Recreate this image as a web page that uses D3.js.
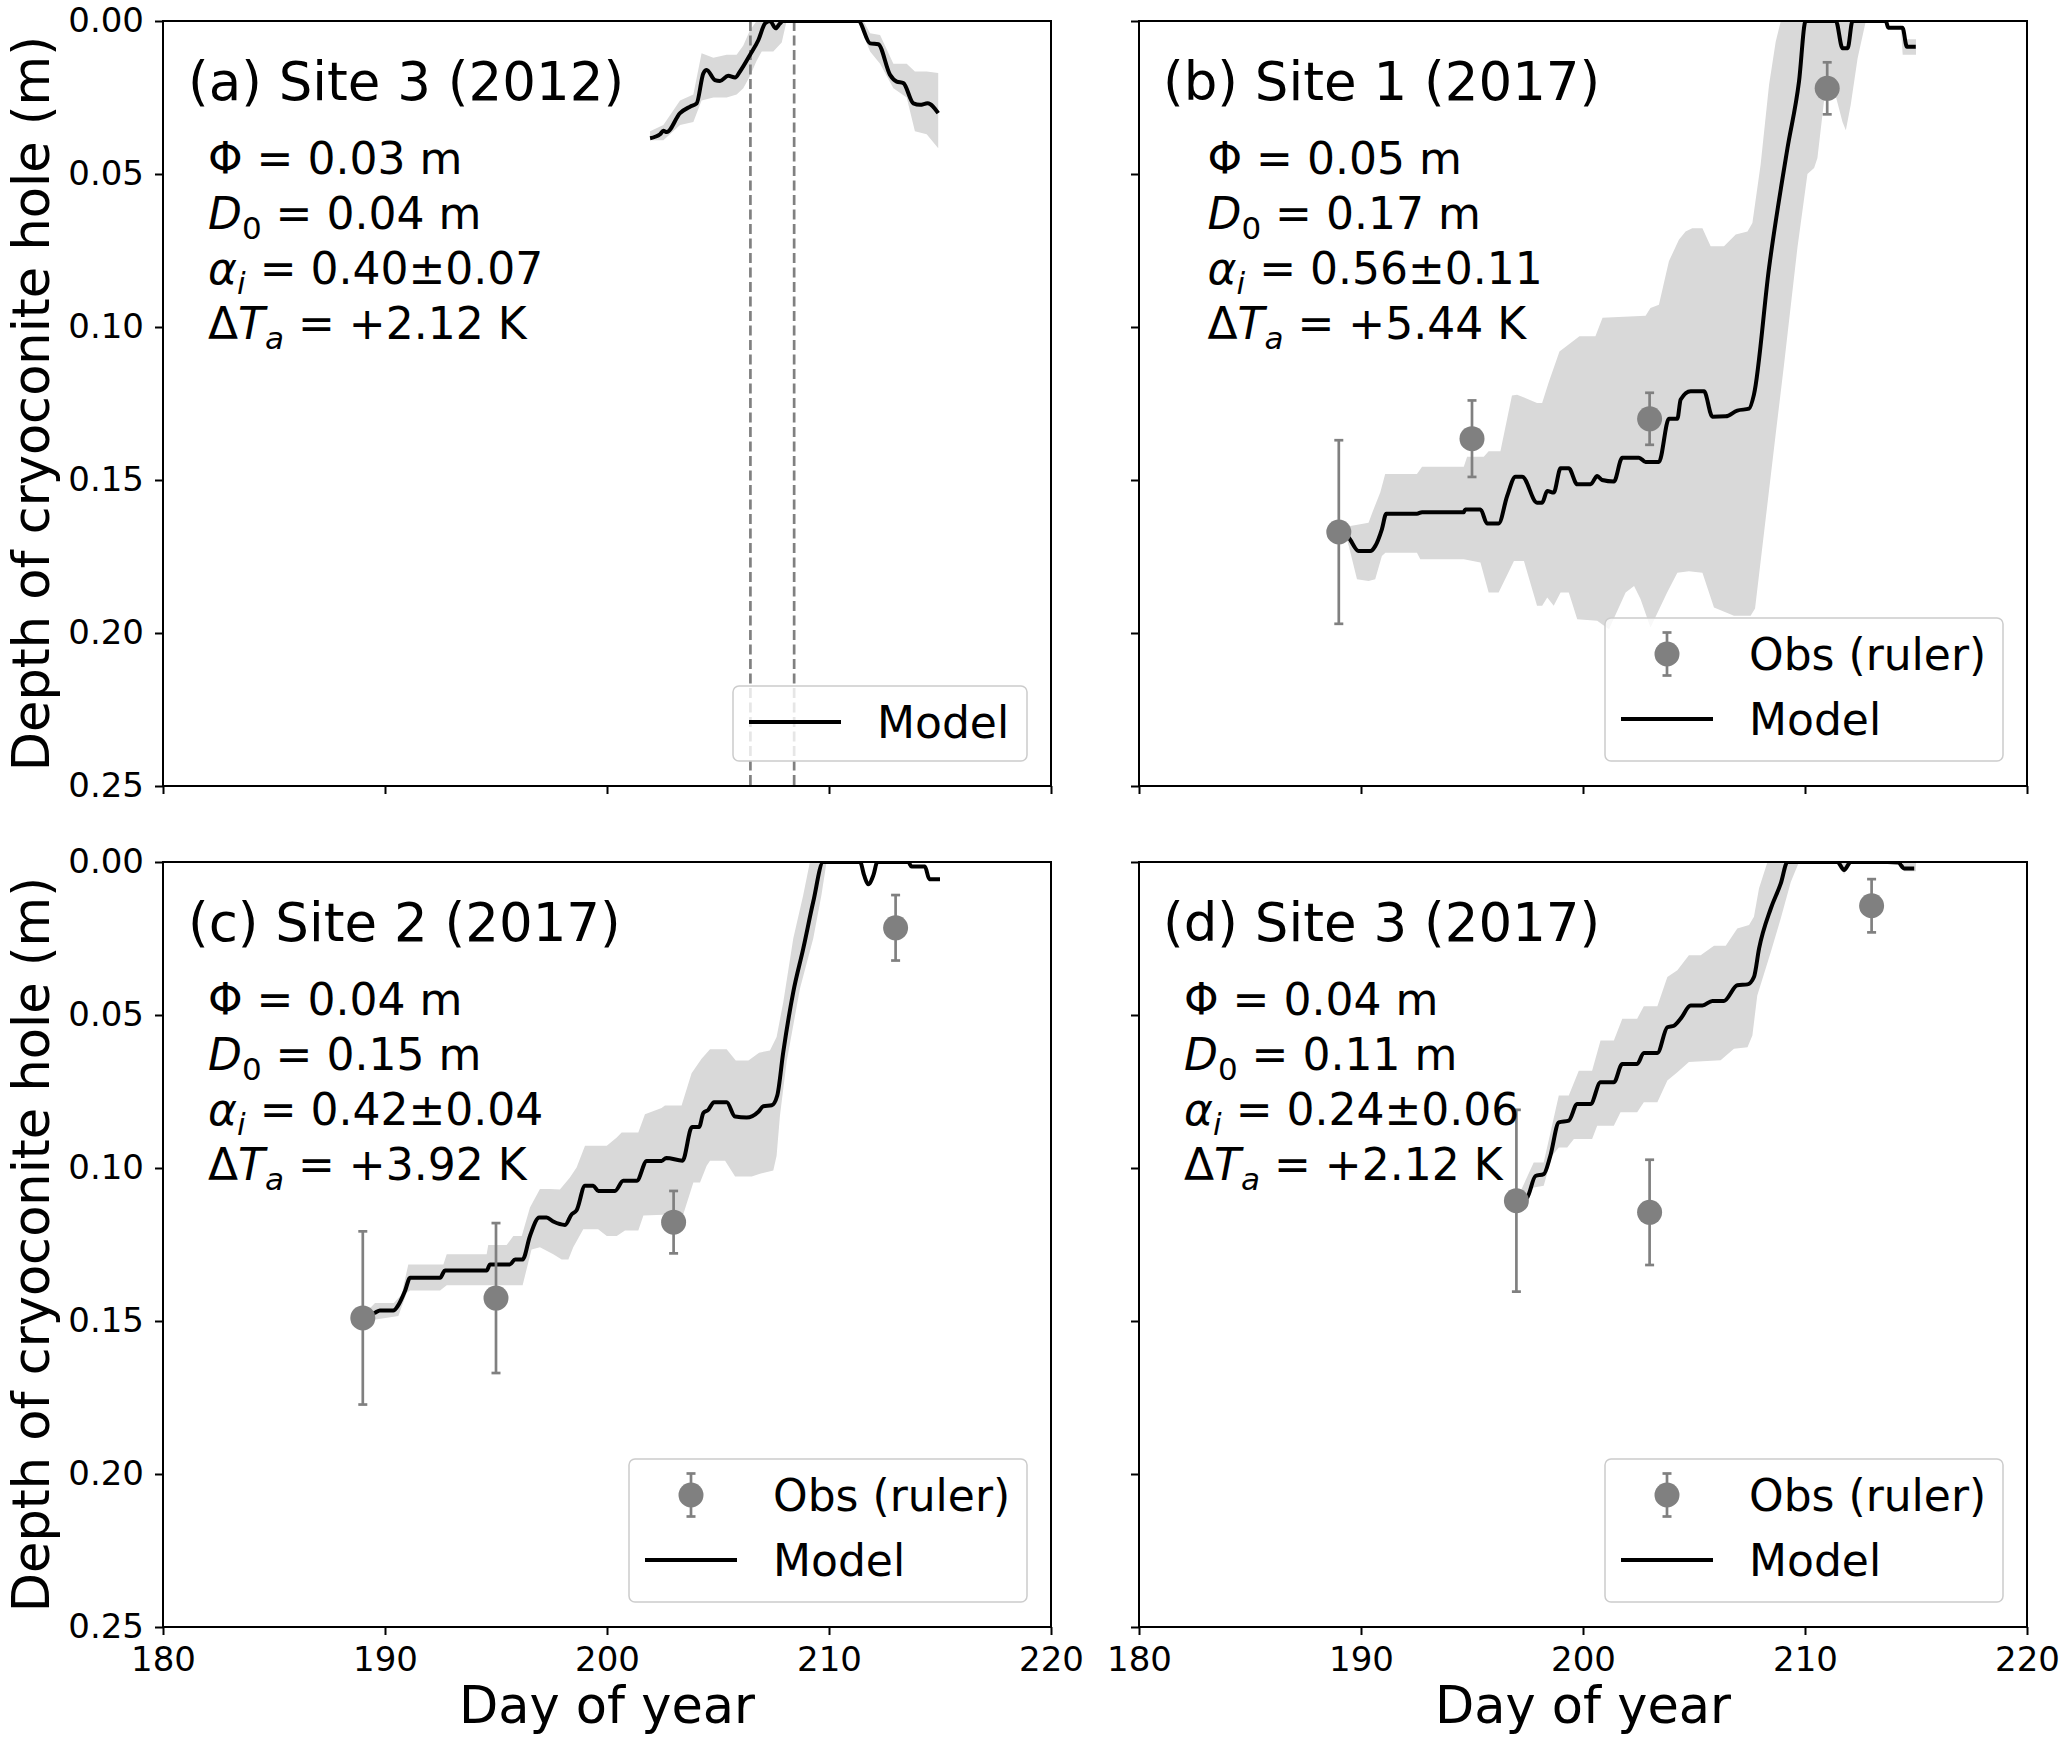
<!DOCTYPE html>
<html>
<head>
<meta charset="utf-8">
<script src="https://cdn.jsdelivr.net/npm/d3@7"></script>
<style>
body { margin: 0; background: #fff; }
text { font-family: "DejaVu Sans", sans-serif; fill: #000; white-space: pre; }
</style>
</head>
<body>
<svg id="fig" width="2067" height="1744"></svg>
<script>
// ---- data ----
const dayTicks = [180, 190, 200, 210, 220];
const depthTicks = [0, 0.05, 0.10, 0.15, 0.20, 0.25];

const panelTitles = ["(a) Site 3 (2012)", "(b) Site 1 (2017)", "(c) Site 2 (2017)", "(d) Site 3 (2017)"];
const phiValues = ["0.03", "0.05", "0.04", "0.04"];
const d0Values = ["0.04", "0.17", "0.15", "0.11"];
const alphaValues = ["0.40\u00b10.07", "0.56\u00b10.11", "0.42\u00b10.04", "0.24\u00b10.06"];
const dTaValues = ["+2.12", "+5.44", "+3.92", "+2.12"];

// dashed markers in panel (a), day of year
const site3_2012Marks = [206.46, 208.43];

// model lines [day, depth]
const site3_2012Model = [[201.94,0.0383],[202.39,0.0370],[202.54,0.0359],[202.69,0.0363],[203.29,0.0301],[203.74,0.0280],[204.04,0.0269],[204.34,0.0171],[204.49,0.0160],[204.86,0.0193],[205.09,0.0196],[205.46,0.0179],[205.77,0.0185],[205.99,0.0165],[206.44,0.0111],[206.82,0.0062],[207.12,0.0008],[207.34,0],[207.60,0.0024],[207.79,0.0008],[207.94,0],[211.32,0],[211.85,0.0073],[212.22,0.0076],[212.75,0.0176],[213.05,0.0198],[213.35,0.0203],[213.80,0.0269],[214.10,0.0274],[214.44,0.0269],[214.92,0.0301]];
const site1_2017Model = [[189.1,0.167],[189.44,0.1688],[189.89,0.1732],[190.42,0.1732],[190.64,0.1716],[190.94,0.1661],[191.14,0.1610],[192.52,0.1610],[192.75,0.1605],[194.63,0.1605],[194.70,0.1596],[195.38,0.1596],[195.68,0.1642],[196.20,0.1642],[196.58,0.1553],[196.96,0.1489],[197.26,0.1489],[197.93,0.1574],[198.16,0.1574],[198.39,0.1536],[198.68,0.1541],[198.99,0.1462],[199.36,0.1462],[199.74,0.1514],[200.34,0.1514],[200.64,0.1487],[200.86,0.1500],[201.39,0.1505],[201.77,0.1427],[202.52,0.1427],[202.82,0.1441],[203.42,0.1441],[203.87,0.1300],[204.25,0.1300],[204.40,0.1237],[204.85,0.1210],[205.45,0.1210],[205.83,0.1293],[206.43,0.1292],[206.95,0.1273],[207.48,0.1267],[207.70,0.1221],[208.38,0.0807],[209.21,0.0416],[209.73,0.0198],[210.03,0],[211.39,0],[211.69,0.0089],[211.92,0.0089],[212.14,0],[213.64,0],[213.75,0.0022],[214.39,0.0022],[214.59,0.0084],[214.99,0.0084]];
const site2_2017Model = [[189.3,0.148],[189.55,0.1473],[189.77,0.1466],[190.37,0.1466],[190.60,0.1448],[190.90,0.1402],[191.13,0.1359],[192.48,0.1359],[192.70,0.1335],[194.58,0.1335],[194.73,0.1315],[195.63,0.1315],[195.86,0.1299],[196.20,0.1299],[196.53,0.1222],[196.95,0.1162],[197.28,0.1162],[197.58,0.1175],[198.11,0.1186],[198.41,0.1151],[198.63,0.1138],[199.01,0.1058],[199.38,0.1058],[199.61,0.1075],[200.36,0.1075],[200.73,0.1042],[201.34,0.1042],[201.79,0.0977],[202.46,0.0977],[202.67,0.0967],[203.40,0.0976],[203.83,0.0866],[204.15,0.0866],[204.34,0.0820],[204.56,0.0810],[204.82,0.0785],[205.39,0.0785],[205.77,0.0832],[206.29,0.0835],[206.82,0.0816],[207.04,0.0798],[207.42,0.0795],[207.67,0.0763],[207.94,0.0621],[208.39,0.0425],[208.84,0.0283],[209.29,0.0130],[209.74,0],[211.40,0],[211.58,0.0043],[211.77,0.0073],[212.00,0.0043],[212.18,0],[213.57,0],[213.72,0.0015],[214.32,0.0015],[214.52,0.0056],[215.0,0.0056]];
const site3_2017Model = [[197.1,0.111],[197.48,0.1097],[197.86,0.1026],[198.23,0.1020],[198.53,0.0960],[198.91,0.0851],[199.36,0.0845],[199.74,0.0791],[200.34,0.0791],[200.79,0.0720],[201.39,0.0720],[201.77,0.0660],[202.44,0.0660],[202.74,0.0624],[203.35,0.0624],[203.80,0.0540],[204.10,0.0535],[204.40,0.0512],[204.85,0.0469],[205.38,0.0469],[205.83,0.0454],[206.35,0.0454],[206.95,0.0403],[207.41,0.0400],[207.70,0.0376],[207.93,0.0283],[208.46,0.0152],[208.91,0.0070],[209.21,0],[211.46,0],[211.76,0.0026],[212.06,0],[213.72,0],[214.2,0.0002],[214.47,0.0021],[214.92,0.0021]];

// uncertainty band edges [day, depth]: shallow edge and deep edge
const site3_2012BandTop = [[201.94,0.036],[202.54,0.034],[203.29,0.026],[203.89,0.024],[204.26,0.0105],[204.79,0.012],[205.39,0.011],[205.84,0.011],[206.14,0.008],[206.44,0.003],[206.74,0],[211.55,0],[211.85,0.004],[212.30,0.0046],[212.90,0.014],[213.50,0.014],[213.87,0.0165],[214.40,0.0165],[214.92,0.017]];
const site3_2012BandBottom = [[201.94,0.039],[202.54,0.039],[203.29,0.034],[203.89,0.033],[204.26,0.026],[204.79,0.025],[205.39,0.025],[205.84,0.024],[206.14,0.022],[206.44,0.018],[206.74,0.013],[206.97,0.010],[207.49,0.010],[207.87,0.007],[208.09,0],[211.3,0],[211.85,0.010],[212.30,0.014],[212.90,0.022],[213.50,0.025],[213.87,0.036],[214.40,0.037],[214.92,0.0416]];
const site1_2017BandTop = [[189.3,0.166],[189.52,0.165],[190.34,0.164],[190.49,0.161],[190.87,0.154],[191.09,0.148],[192.52,0.148],[192.75,0.1457],[194.63,0.1457],[194.78,0.1424],[195.53,0.1424],[195.75,0.1406],[196.28,0.1406],[196.80,0.1224],[197.03,0.1221],[197.93,0.1248],[198.16,0.1248],[198.46,0.118],[198.94,0.108],[199.84,0.103],[200.56,0.103],[200.88,0.097],[202.82,0.0963],[203.04,0.0938],[203.42,0.0927],[203.87,0.0785],[204.32,0.0715],[204.62,0.0688],[204.92,0.0677],[205.38,0.0677],[205.75,0.0736],[206.35,0.0736],[206.88,0.0698],[207.41,0.0688],[207.63,0.066],[208.0,0.047],[208.38,0.0209],[208.68,0.0068],[208.91,0],[214.3,0],[214.4,0.006],[215.0,0.006]];
const site1_2017BandBottom = [[189.3,0.168],[189.45,0.1716],[189.82,0.1824],[190.34,0.1830],[190.64,0.1824],[190.94,0.1748],[191.1,0.1738],[192.52,0.1738],[192.67,0.1759],[194.63,0.1759],[195.38,0.1770],[195.75,0.1868],[196.20,0.1868],[196.89,0.1765],[197.34,0.1765],[197.93,0.1911],[198.16,0.1911],[198.39,0.1884],[198.68,0.1911],[198.99,0.1868],[199.36,0.1868],[199.74,0.1955],[200.64,0.1960],[201.17,0.1988],[201.92,0.1868],[202.30,0.1846],[202.59,0.1889],[203.04,0.1982],[203.79,0.1868],[204.25,0.1803],[204.77,0.1798],[205.38,0.1803],[205.90,0.1917],[206.80,0.1944],[207.55,0.1944],[207.75,0.192],[208.68,0.135],[209.06,0.112],[209.66,0.074],[210.11,0.050],[210.41,0.048],[210.56,0.0448],[210.86,0.026],[211.31,0.0225],[211.69,0.033],[211.84,0.0357],[212.06,0.0274],[212.37,0.0122],[212.74,0],[214.3,0],[214.4,0.011],[215.0,0.011]];
const site2_2017BandTop = [[189.3,0.146],[189.55,0.1441],[190.40,0.1441],[190.75,0.1413],[191.05,0.1315],[192.63,0.1315],[192.78,0.1282],[194.58,0.1282],[194.65,0.1252],[195.48,0.1252],[195.78,0.1222],[196.16,0.1222],[196.53,0.1129],[196.98,0.1069],[197.43,0.1069],[197.88,0.107],[198.33,0.1031],[198.63,0.0998],[199.01,0.0927],[199.99,0.0927],[200.44,0.0900],[200.66,0.0884],[201.41,0.0884],[201.71,0.0824],[202.46,0.0804],[202.61,0.0796],[203.36,0.0796],[203.81,0.069],[204.26,0.0643],[204.64,0.0612],[205.39,0.0612],[205.80,0.0649],[206.37,0.0649],[206.85,0.0623],[207.34,0.0616],[207.64,0.0572],[207.94,0.0458],[208.39,0.0250],[208.84,0.0108],[209.14,0],[215.0,0]];
const site2_2017BandBottom = [[189.3,0.150],[189.58,0.1495],[190.60,0.1484],[190.98,0.1408],[191.13,0.140],[192.48,0.140],[192.78,0.1383],[196.20,0.1383],[196.60,0.1266],[196.98,0.1259],[197.58,0.1282],[197.96,0.1299],[198.26,0.1299],[198.48,0.1259],[198.93,0.1200],[199.60,0.1200],[199.99,0.1222],[200.44,0.1222],[200.81,0.1204],[201.41,0.1204],[201.64,0.1155],[203.44,0.1150],[203.89,0.1047],[204.19,0.1047],[204.49,0.0993],[204.64,0.0976],[205.32,0.0976],[205.77,0.1028],[206.52,0.1028],[206.89,0.1019],[207.49,0.1008],[207.64,0.0960],[207.79,0.0829],[208.09,0.0654],[208.69,0.0414],[209.29,0.0250],[209.66,0.0108],[209.89,0],[215.0,0]];
const site3_2017BandTop = [[197.1,0.109],[197.78,0.0982],[198.23,0.0982],[198.91,0.0763],[199.36,0.0763],[199.81,0.0682],[200.41,0.0682],[200.79,0.0583],[201.39,0.0583],[201.77,0.0512],[202.44,0.0512],[202.74,0.0471],[203.35,0.0471],[203.80,0.0376],[204.25,0.0354],[204.77,0.0305],[205.30,0.0305],[205.90,0.0274],[206.43,0.0274],[206.95,0.0217],[207.48,0.0206],[207.70,0.0179],[207.93,0.0086],[208.31,0],[215.0,0]];
const site3_2017BandBottom = [[197.1,0.112],[197.78,0.1064],[198.23,0.1058],[198.61,0.0960],[198.91,0.0933],[199.29,0.0933],[199.59,0.0905],[200.41,0.0905],[200.64,0.0862],[201.39,0.0862],[201.69,0.0818],[202.44,0.0818],[202.74,0.0785],[203.35,0.0785],[203.80,0.0714],[204.25,0.0687],[204.77,0.0654],[206.20,0.0648],[206.80,0.0610],[207.41,0.0605],[207.63,0.0567],[207.85,0.0436],[208.46,0.0294],[208.91,0.0184],[209.36,0.0065],[209.73,0],[211.5,0],[211.76,0.004],[212.0,0],[214.4,0],[214.47,0.003],[215.0,0.003]];

// ruler observations [day, depth, error]
const site1_2017Obs = [[189,0.167,0.030],[195,0.1365,0.0125],[203,0.130,0.0085],[211,0.022,0.0085]];
const site2_2017Obs = [[189,0.149,0.0283],[195,0.1425,0.0245],[203,0.1177,0.0102],[213,0.0215,0.0107]];
const site3_2017Obs = [[197,0.1107,0.0297],[203,0.1145,0.0172],[213,0.0143,0.0087]];

// ---- layout ----
const W = 888, H = 765;
const panels = [
  {key: "a", x: 163,  y: 21,  model: site3_2012Model, top: site3_2012BandTop, bottom: site3_2012BandBottom, obs: null, marks: site3_2012Marks, paramDx: 45,   yLabels: true,  xLabels: false},
  {key: "b", x: 1139, y: 21,  model: site1_2017Model, top: site1_2017BandTop, bottom: site1_2017BandBottom, obs: site1_2017Obs, marks: [], paramDx: 68.5, yLabels: false, xLabels: false},
  {key: "c", x: 163,  y: 862, model: site2_2017Model, top: site2_2017BandTop, bottom: site2_2017BandBottom, obs: site2_2017Obs, marks: [], paramDx: 45,   yLabels: true,  xLabels: true},
  {key: "d", x: 1139, y: 862, model: site3_2017Model, top: site3_2017BandTop, bottom: site3_2017BandBottom, obs: site3_2017Obs, marks: [], paramDx: 45,   yLabels: false, xLabels: true}
];

const svg = d3.select("#fig");
svg.append("rect").attr("width", 2067).attr("height", 1744).attr("fill", "#fff");
const defs = svg.append("defs");

const obsColor = "#808080";
const bandColor = "#d9d9d9";

function drawObs(g, cx, cy, dy) {
  g.append("line").attr("x1", cx).attr("x2", cx).attr("y1", cy - dy).attr("y2", cy + dy)
    .attr("stroke", obsColor).attr("stroke-width", 2.7);
  [cy - dy, cy + dy].forEach(v => {
    g.append("line").attr("x1", cx - 4.5).attr("x2", cx + 4.5).attr("y1", v).attr("y2", v)
      .attr("stroke", obsColor).attr("stroke-width", 2.7);
  });
  g.append("circle").attr("cx", cx).attr("cy", cy).attr("r", 12.5).attr("fill", obsColor);
}

function drawLegend(g, p, hasObs) {
  const w = hasObs ? 398 : 294, h = hasObs ? 143 : 75;
  const bx = p.x + W - 24 - w, by = p.y + H - 25 - h;
  g.append("rect").attr("x", bx).attr("y", by).attr("width", w).attr("height", h)
    .attr("rx", 6).attr("fill", "#fff").attr("fill-opacity", 0.8)
    .attr("stroke", "#cccccc").attr("stroke-width", 1.5);
  let row = by + 36;
  if (hasObs) {
    drawObs(g, bx + 62, row, 21.5);
    g.append("text").attr("x", bx + 144).attr("y", row + 16).attr("font-size", 44).text("Obs (ruler)");
    row += 65;
  }
  g.append("line").attr("x1", bx + 16).attr("x2", bx + 108).attr("y1", row).attr("y2", row)
    .attr("stroke", "#000").attr("stroke-width", 4);
  g.append("text").attr("x", bx + 144).attr("y", row + 16).attr("font-size", 44).text("Model");
}

function paramLine(g, x, y, parts) {
  const t = g.append("text").attr("x", x).attr("y", y).attr("font-size", 44);
  parts.forEach(pt => {
    const s = t.append("tspan").text(pt.t);
    if (pt.it) s.attr("font-style", "italic");
    if (pt.sub) s.attr("font-size", 31).attr("dy", 10);
    if (pt.up) s.attr("dy", -10);
  });
}

panels.forEach((p, i) => {
  const x = d3.scaleLinear().domain([180, 220]).range([p.x, p.x + W]);
  const y = d3.scaleLinear().domain([0, 0.25]).range([p.y, p.y + H]);
  const g = svg.append("g");

  defs.append("clipPath").attr("id", "clip-" + p.key).append("rect")
    .attr("x", p.x).attr("y", p.y).attr("width", W).attr("height", H);
  const plot = g.append("g").attr("clip-path", `url(#clip-${p.key})`);

  // uncertainty band
  const poly = p.top.concat(p.bottom.slice().reverse());
  plot.append("path")
    .attr("d", d3.line().x(d => x(d[0])).y(d => y(d[1]))(poly) + "Z")
    .attr("fill", bandColor);

  // dashed markers
  p.marks.forEach(m => {
    plot.append("line").attr("x1", x(m)).attr("x2", x(m)).attr("y1", p.y).attr("y2", p.y + H)
      .attr("stroke", obsColor).attr("stroke-width", 2.7).attr("stroke-dasharray", "10,4.5");
  });

  // model
  plot.append("path")
    .attr("d", d3.line().x(d => x(d[0])).y(d => y(d[1])).curve(d3.curveMonotoneX)(p.model))
    .attr("fill", "none").attr("stroke", "#000").attr("stroke-width", 4)
    .attr("stroke-linejoin", "round");

  // observations
  if (p.obs) {
    p.obs.forEach(o => drawObs(plot, x(o[0]), y(o[1]), y(o[2]) - y(0)));
  }

  // axes
  const yAxis = d3.axisLeft(y).tickValues(depthTicks).tickSize(8).tickSizeOuter(0).tickPadding(11)
    .tickFormat(p.yLabels ? d3.format(".2f") : () => "");
  const ya = g.append("g").attr("transform", `translate(${p.x},0)`).call(yAxis);
  const xAxis = d3.axisBottom(x).tickValues(dayTicks).tickSize(8).tickSizeOuter(0).tickPadding(12)
    .tickFormat(p.xLabels ? d3.format("d") : () => "");
  const xa = g.append("g").attr("transform", `translate(0,${p.y + H})`).call(xAxis);
  [ya, xa].forEach(a => {
    a.select(".domain").remove();
    a.selectAll(".tick line").attr("stroke", "#000").attr("stroke-width", 2);
    a.selectAll(".tick text").attr("font-size", 34).attr("font-family", "DejaVu Sans").attr("fill", "#000");
  });
  g.append("rect").attr("x", p.x).attr("y", p.y).attr("width", W).attr("height", H)
    .attr("fill", "none").attr("stroke", "#000").attr("stroke-width", 2);

  // legend
  drawLegend(g, p, !!p.obs);

  // title and parameters
  g.append("text").attr("x", p.x + (p.key === "b" || p.key === "d" ? 24 : 25)).attr("y", p.y + 79)
    .attr("font-size", 53).text(panelTitles[i]);
  const px = p.x + p.paramDx;
  paramLine(g, px, p.y + 153, [{t: "\u03a6 = " + phiValues[i] + " m"}]);
  paramLine(g, px, p.y + 208, [{t: "D", it: true}, {t: "0", sub: true}, {t: " = " + d0Values[i] + " m", up: true}]);
  paramLine(g, px, p.y + 263, [{t: "\u03b1", it: true}, {t: "i", it: true, sub: true}, {t: " = " + alphaValues[i], up: true}]);
  paramLine(g, px, p.y + 318, [{t: "\u0394"}, {t: "T", it: true}, {t: "a", it: true, sub: true}, {t: " = " + dTaValues[i] + " K", up: true}]);

  // axis labels
  if (p.yLabels) {
    g.append("text").attr("transform", `translate(49,${p.y + H / 2}) rotate(-90)`)
      .attr("text-anchor", "middle").attr("font-size", 51).text("Depth of cryoconite hole (m)");
  }
  if (p.xLabels) {
    g.append("text").attr("x", p.x + W / 2).attr("y", 1723)
      .attr("text-anchor", "middle").attr("font-size", 51).text("Day of year");
  }
});
</script>
</body>
</html>
